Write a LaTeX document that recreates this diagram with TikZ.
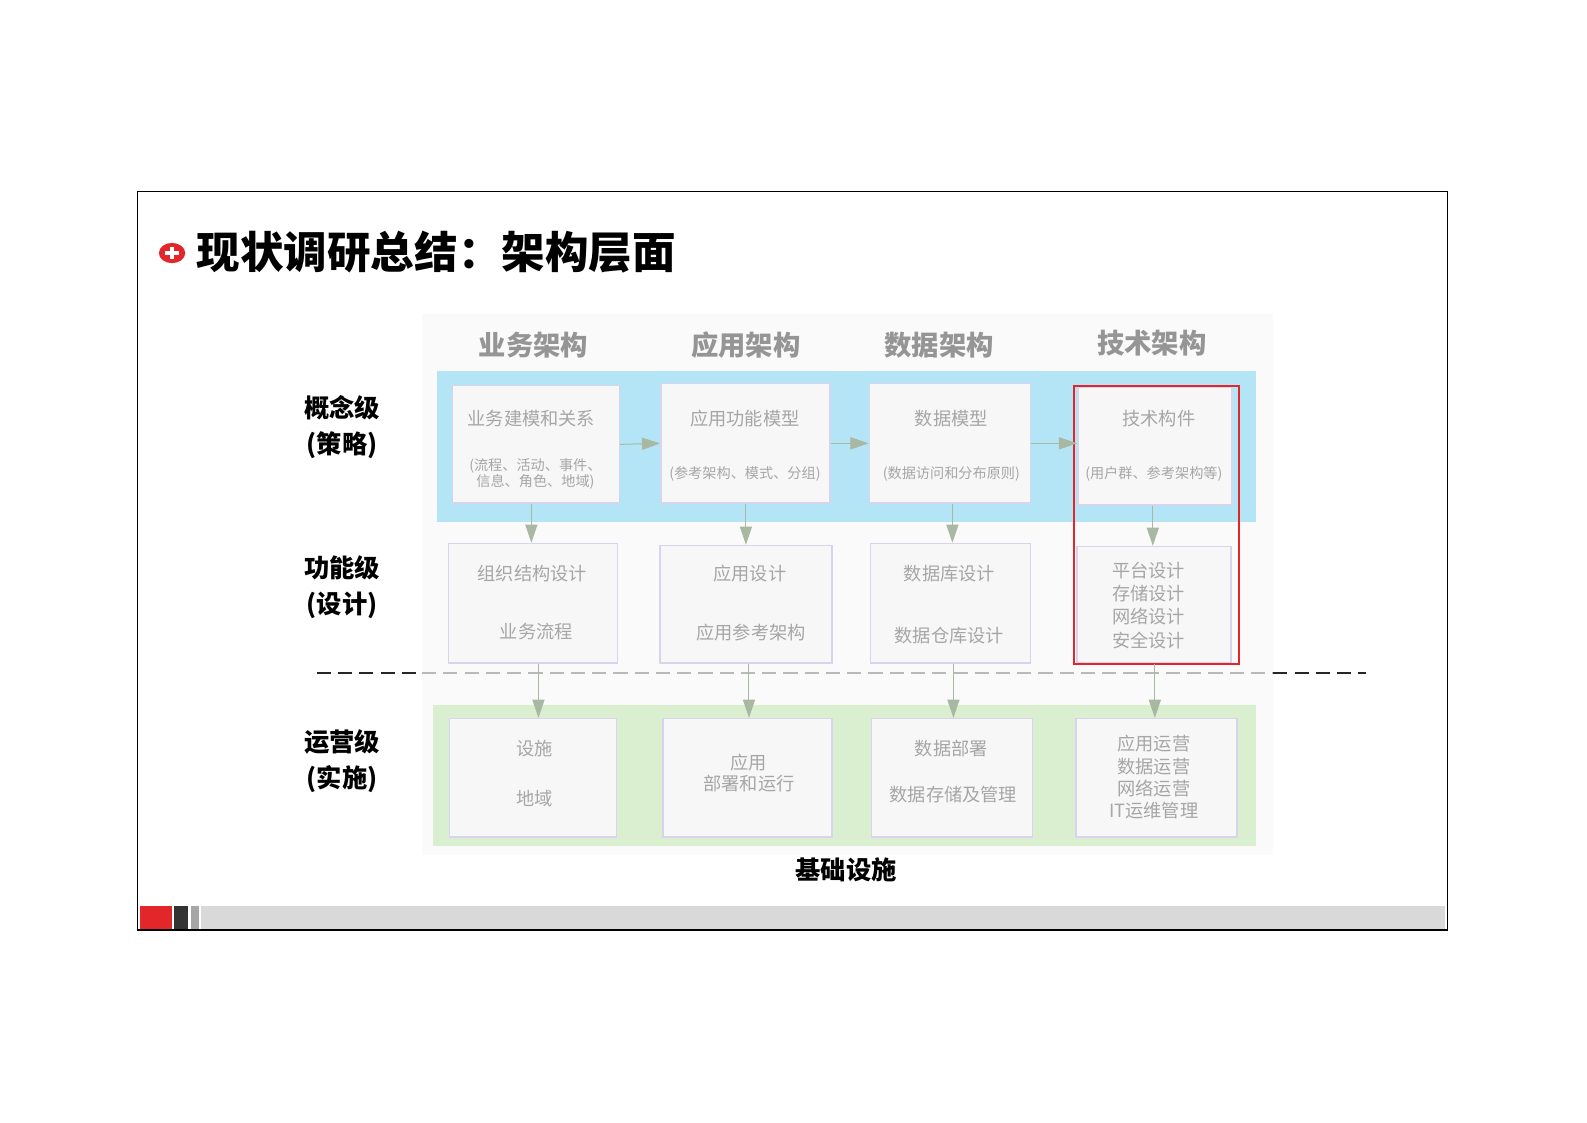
\documentclass[tikz,border=0pt]{standalone}
\usepackage{fontspec}
\setmainfont{Noto Sans CJK SC}
\usetikzlibrary{arrows.meta}
\definecolor{blueband}{HTML}{B3E5F6}
\definecolor{greenband}{HTML}{DAEFD0}
\definecolor{boxfill}{HTML}{F7F7F7}
\definecolor{boxline}{HTML}{D8D4EE}
\definecolor{txtgray}{HTML}{A6A6A6}
\definecolor{arrcol}{HTML}{A9B8A2}
\definecolor{redc}{HTML}{E3262A}
\tikzset{
 cbox/.style={draw=boxline,fill=boxfill,line width=1.5pt},
 btxt/.style={text=txtgray,font=\fontsize{18}{21}\selectfont,align=center},
 stxt/.style={text=txtgray,font=\fontsize{14}{16}\selectfont,align=center},
 hdr/.style={text=txtgray!90!black,font=\fontsize{27}{30}\selectfont\bfseries},
 side/.style={font=\fontsize{25}{35}\selectfont\bfseries,align=center},
 flow/.style={draw=arrcol,line width=1pt,-{Triangle[length=18pt,width=12pt]}},
}
\begin{document}
\begin{tikzpicture}[x=1pt,y=-1pt]
\useasboundingbox (0,0) rectangle (1568,1109);
\draw[line width=1.5pt] (136,189) rectangle (1430,919);
% bottom bar
\fill[gray!30] (199,895) rectangle (1428,918);
\fill[redc] (138,895) rectangle (170,918);
\fill[black!80] (172,895) rectangle (186,918);
\fill[gray!70] (189,895) rectangle (197,918);
% title
\fill[redc] (170,250) ellipse (13pt and 10pt);
\fill[white] (163,248) rectangle (177,252);
\fill[white] (168,244) rectangle (172,256);
\node[anchor=west,font=\fontsize{43}{46}\selectfont\bfseries] (title) at (191,249) {现状调研总结：架构层面};
% background panels
\fill[gray!4] (417,310) rectangle (1258,845);
\fill[blueband] (432,367) rectangle (1241,516);
\fill[greenband] (428,697) rectangle (1241,836);
% headers
\node[hdr] (h1) at (527,341) {业务架构};
\node[hdr] (h2) at (737,341) {应用架构};
\node[hdr] (h3) at (928,341) {数据架构};
\node[hdr] (h4) at (1138,339) {技术架构};
% side labels
\node[side] (s1) at (338,422) {概念级\\(策略)};
\node[side] (s2) at (338,580) {功能级\\(设计)};
\node[side] (s3) at (338,752) {运营级\\(实施)};
% concept boxes
\node[cbox,minimum width=165pt,minimum height=116pt] (c1) at (529.5,439) {};
\node[cbox,minimum width=167pt,minimum height=118pt] (c2) at (736.5,438) {};
\node[cbox,minimum width=159pt,minimum height=118pt] (c3) at (938.5,438) {};
\node[cbox,minimum width=152pt,minimum height=116pt] (c4) at (1141,441) {};
\node[btxt] at (525,414) {业务建模和关系};
\node[stxt] at (529,468) {(流程、活动、事件、\\信息、角色、地域)};
\node[btxt] at (736,414) {应用功能模型};
\node[stxt] at (736,468) {(参考架构、模式、分组)};
\node[btxt] at (940,414) {数据模型};
\node[stxt] at (940,468) {(数据访问和分布原则)};
\node[btxt] at (1145,414) {技术构件};
\node[stxt] at (1140,468) {(用户群、参考架构等)};
% function boxes
\node[cbox,minimum width=167pt,minimum height=118pt] (f1) at (526.5,596) {};
\node[cbox,minimum width=170pt,minimum height=116pt] (f2) at (737,597) {};
\node[cbox,minimum width=158pt,minimum height=118pt] (f3) at (939,596) {};
\node[cbox,minimum width=152pt,minimum height=115pt] (f4) at (1140,597.5) {};
\node[btxt] at (526,567) {组织结构设计};
\node[btxt] at (530,624) {业务流程};
\node[btxt] at (741,567) {应用设计};
\node[btxt] at (742,625) {应用参考架构};
\node[btxt] at (938,567) {数据库设计};
\node[btxt] at (938,628) {数据仓库设计};
\node[btxt,font=\fontsize{18}{23}\selectfont] at (1135,598) {平台设计\\存储设计\\网络设计\\安全设计};
% ops boxes
\node[cbox,minimum width=165pt,minimum height=117pt] (o1) at (526.5,768.5) {};
\node[cbox,minimum width=167pt,minimum height=117pt] (o2) at (738.5,768.5) {};
\node[cbox,minimum width=159pt,minimum height=117pt] (o3) at (940.5,768.5) {};
\node[cbox,minimum width=159pt,minimum height=117pt] (o4) at (1142.5,768.5) {};
\node[btxt] at (528,740) {设施};
\node[btxt] at (528,789) {地域};
\node[btxt] at (740,764) {应用\\部署和运行};
\node[btxt] at (940,740) {数据部署};
\node[btxt] at (942,785) {数据存储及管理};
\node[btxt,font=\fontsize{18}{22}\selectfont] at (1140,768) {应用运营\\数据运营\\网络运营\\IT运维管理};
% red highlight
\draw[redc,line width=1.8pt] (1061,381) rectangle (1224,656);
% dashed line
\coordinate (dl0) at (313,665); \coordinate (dl1) at (417,665);
\coordinate (dl2) at (1258,665); \coordinate (dl3) at (1350,665);
\draw[dash pattern=on 14pt off 7pt,line width=2.5pt,black!85] (dl0) -- (dl1);
\draw[dash pattern=on 14pt off 7pt,line width=2.5pt,gray!55] (dl1) -- (dl2);
\draw[dash pattern=on 14pt off 7pt,line width=2.5pt,black!85] (dl2) -- (dl3);
% horizontal flows
\draw[flow] (c1.east) -- (c2.west);
\draw[flow] (c2.east) -- (c3.west);
\draw[flow] (c3.east) -- (c4.west |- c3.east);
% vertical flows
\draw[flow] (c1.south -| 525,0) -- (f1.north -| 525,0);
\draw[flow] (c2.south -| 737,0) -- (f2.north -| 737,0);
\draw[flow] (c3.south -| 941,0) -- (f3.north -| 941,0);
\draw[flow] (c4.south -| 1139,0) -- (f4.north -| 1139,0);
\draw[flow] (f1.south -| 532,0) -- (o1.north -| 532,0);
\draw[flow] (f2.south -| 740,0) -- (o2.north -| 740,0);
\draw[flow] (f3.south -| 942,0) -- (o3.north -| 942,0);
\draw[flow] (f4.south -| 1141,0) -- (o4.north -| 1141,0);
\node[font=\fontsize{25}{28}\selectfont\bfseries] (base) at (836,859) {基础设施};
\end{tikzpicture}
\end{document}
